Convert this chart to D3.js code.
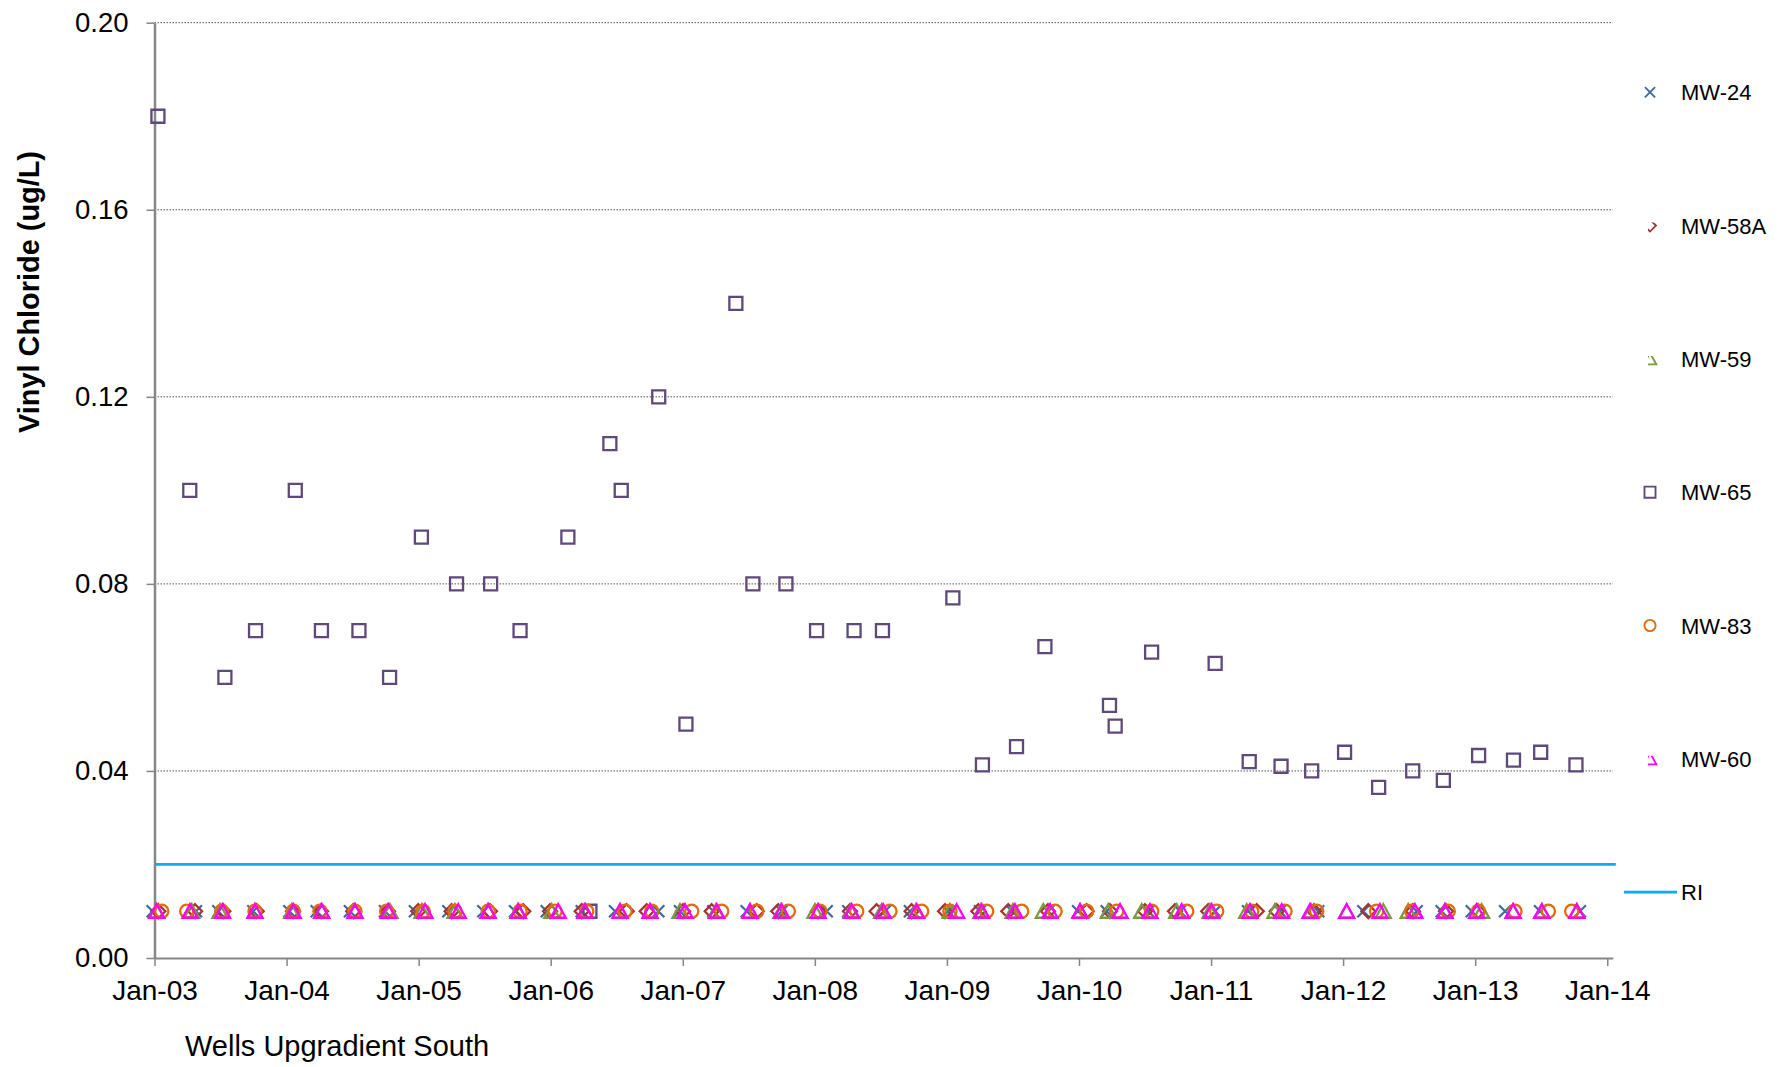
<!DOCTYPE html>
<html>
<head>
<meta charset="utf-8">
<script src="https://cdn.jsdelivr.net/npm/d3@7/dist/d3.min.js"></script>
<style>
  html, body { margin: 0; padding: 0; background: #ffffff; }
  svg { display: block; font-family: "Liberation Sans", Arial, sans-serif; }
</style>
</head>
<body>
<svg id="chart" width="1781" height="1067"></svg>
<script>
// ---------------- data ----------------
const xTickValues = [2003, 2004, 2005, 2006, 2007, 2008, 2009, 2010, 2011, 2012, 2013, 2014];
const xTickLabels = ["Jan-03", "Jan-04", "Jan-05", "Jan-06", "Jan-07", "Jan-08", "Jan-09", "Jan-10", "Jan-11", "Jan-12", "Jan-13", "Jan-14"];
const yTickValues = [0, 0.04, 0.08, 0.12, 0.16, 0.20];
const yTickLabels = ["0.00", "0.04", "0.08", "0.12", "0.16", "0.20"];
const yAxisTitle = "Vinyl Chloride (ug/L)";
const xAxisTitle = "Wells Upgradient South";
const riValue = 0.02;

// sample dates (decimal years) and concentrations (ug/L)
const mw24 = [
  [2002.986, 0.01], [2003.314, 0.01], [2003.483, 0.01], [2003.748, 0.01], [2004.021, 0.01], [2004.228, 0.01],
  [2004.480, 0.01], [2004.745, 0.01], [2004.972, 0.01], [2005.225, 0.01], [2005.490, 0.01], [2005.730, 0.01],
  [2005.970, 0.01], [2006.235, 0.01], [2006.487, 0.01], [2006.815, 0.01], [2006.979, 0.01], [2007.231, 0.01],
  [2007.484, 0.01], [2007.749, 0.01], [2008.090, 0.01], [2008.253, 0.01], [2008.531, 0.01], [2008.720, 0.01],
  [2009.010, 0.01], [2009.251, 0.01], [2009.493, 0.01], [2009.768, 0.01], [2009.993, 0.01], [2010.210, 0.01],
  [2010.525, 0.01], [2010.765, 0.01], [2011.030, 0.01], [2011.280, 0.01], [2011.522, 0.01], [2011.812, 0.01],
  [2012.153, 0.01], [2012.557, 0.01], [2012.746, 0.01], [2012.974, 0.01], [2013.226, 0.01], [2013.491, 0.01],
  [2013.793, 0.01]
];
const mw58a = [
  [2003.029, 0.01], [2003.307, 0.01], [2003.521, 0.01], [2003.774, 0.01], [2004.049, 0.01], [2004.261, 0.01],
  [2004.505, 0.01], [2004.768, 0.01], [2004.997, 0.01], [2005.250, 0.01], [2005.540, 0.01], [2005.792, 0.01],
  [2005.995, 0.01], [2006.235, 0.01], [2006.575, 0.01], [2006.727, 0.01], [2007.002, 0.01], [2007.219, 0.01],
  [2007.560, 0.01], [2007.723, 0.01], [2008.024, 0.01], [2008.266, 0.01], [2008.468, 0.01], [2008.733, 0.01],
  [2008.986, 0.01], [2009.238, 0.01], [2009.465, 0.01], [2009.765, 0.01], [2010.058, 0.01], [2010.235, 0.01],
  [2010.500, 0.01], [2010.727, 0.01], [2010.979, 0.01], [2011.346, 0.01], [2011.497, 0.01], [2011.780, 0.01],
  [2012.191, 0.01], [2012.529, 0.01], [2012.779, 0.01], [2013.021, 0.01]
];
const mw59 = [
  [2003.017, 0.01], [2003.282, 0.01], [2003.496, 0.01], [2003.761, 0.01], [2004.039, 0.01], [2004.266, 0.01],
  [2004.518, 0.01], [2004.783, 0.01], [2005.025, 0.01], [2005.275, 0.01], [2005.525, 0.01], [2005.752, 0.01],
  [2006.008, 0.01], [2006.260, 0.01], [2006.525, 0.01], [2006.752, 0.01], [2006.979, 0.01], [2007.252, 0.01],
  [2007.509, 0.01], [2007.744, 0.01], [2008.001, 0.01], [2008.274, 0.01], [2008.506, 0.01], [2008.766, 0.01],
  [2009.023, 0.01], [2009.258, 0.01], [2009.500, 0.01], [2009.730, 0.01], [2010.008, 0.01], [2010.222, 0.01],
  [2010.475, 0.01], [2010.740, 0.01], [2010.992, 0.01], [2011.270, 0.01], [2011.484, 0.01], [2011.757, 0.01],
  [2012.027, 0.01], [2012.304, 0.01], [2012.493, 0.01], [2012.771, 0.01], [2013.049, 0.01], [2013.286, 0.01],
  [2013.506, 0.01], [2013.771, 0.01]
];
const mw65 = [
  [2003.026, 0.18], [2003.267, 0.10], [2003.533, 0.06], [2003.765, 0.07], [2004.066, 0.10], [2004.264, 0.07],
  [2004.548, 0.07], [2004.780, 0.06], [2005.021, 0.09], [2005.287, 0.08], [2005.545, 0.08], [2005.768, 0.07],
  [2006.130, 0.09], [2006.297, 0.01], [2006.448, 0.11], [2006.534, 0.10], [2006.818, 0.12], [2007.024, 0.05],
  [2007.402, 0.14], [2007.531, 0.08], [2007.781, 0.08], [2008.013, 0.07], [2008.297, 0.07], [2008.512, 0.07],
  [2009.045, 0.077], [2009.269, 0.0413], [2009.527, 0.0452], [2009.742, 0.0666], [2010.231, 0.054], [2010.274, 0.0496],
  [2010.550, 0.0654], [2011.031, 0.063], [2011.289, 0.042], [2011.530, 0.041], [2011.762, 0.040], [2012.011, 0.044],
  [2012.269, 0.0365], [2012.527, 0.040], [2012.759, 0.038], [2013.026, 0.0433], [2013.290, 0.0423], [2013.496, 0.044],
  [2013.763, 0.0413]
];
const mw83 = [
  [2003.055, 0.01], [2003.244, 0.01], [2003.509, 0.01], [2003.761, 0.01], [2004.051, 0.01], [2004.253, 0.01],
  [2004.518, 0.01], [2004.758, 0.01], [2005.035, 0.01], [2005.275, 0.01], [2005.527, 0.01], [2005.768, 0.01],
  [2006.033, 0.01], [2006.273, 0.01], [2006.563, 0.01], [2006.765, 0.01], [2007.068, 0.01], [2007.295, 0.01],
  [2007.560, 0.01], [2007.799, 0.01], [2008.039, 0.01], [2008.317, 0.01], [2008.569, 0.01], [2008.809, 0.01],
  [2009.023, 0.01], [2009.301, 0.01], [2009.566, 0.01], [2009.819, 0.01], [2010.058, 0.01], [2010.286, 0.01],
  [2010.551, 0.01], [2010.816, 0.01], [2011.043, 0.01], [2011.308, 0.01], [2011.560, 0.01], [2011.800, 0.01],
  [2012.254, 0.01], [2012.519, 0.01], [2012.796, 0.01], [2013.024, 0.01], [2013.301, 0.01], [2013.554, 0.01],
  [2013.731, 0.01]
];
const mw60 = [
  [2003.017, 0.01], [2003.269, 0.01], [2003.516, 0.01], [2003.761, 0.01], [2004.051, 0.01], [2004.266, 0.01],
  [2004.518, 0.01], [2004.770, 0.01], [2005.048, 0.01], [2005.300, 0.01], [2005.527, 0.01], [2005.755, 0.01],
  [2006.057, 0.01], [2006.260, 0.01], [2006.525, 0.01], [2006.752, 0.01], [2007.017, 0.01], [2007.257, 0.01],
  [2007.509, 0.01], [2007.749, 0.01], [2008.026, 0.01], [2008.279, 0.01], [2008.518, 0.01], [2008.771, 0.01],
  [2009.074, 0.01], [2009.263, 0.01], [2009.515, 0.01], [2009.781, 0.01], [2010.008, 0.01], [2010.311, 0.01],
  [2010.538, 0.01], [2010.778, 0.01], [2011.005, 0.01], [2011.295, 0.01], [2011.535, 0.01], [2011.749, 0.01],
  [2012.027, 0.01], [2012.279, 0.01], [2012.544, 0.01], [2012.771, 0.01], [2013.011, 0.01], [2013.288, 0.01],
  [2013.504, 0.01], [2013.769, 0.01]
];

const seriesNames = ["MW-24", "MW-58A", "MW-59", "MW-65", "MW-83", "MW-60"];
const seriesData = [mw24, mw58a, mw59, mw65, mw83, mw60];
const seriesColors = ["#3C6AA0", "#A5342F", "#7A9A3C", "#5F497A", "#E36C0A", "#FF00FF"];
const seriesShapes = ["cross", "diamond", "triangle", "square", "circle", "triangle"];
const riName = "RI";
const riColor = "#00B0F0";

// ---------------- layout ----------------
const svg = d3.select("#chart");
const plotLeft = 154.5, plotRight = 1612.8, plotTop = 22.7, plotBottom = 958;

const x = d3.scaleLinear().domain([2003, 2014.042]).range([plotLeft, plotRight]);
const y = d3.scaleLinear().domain([0, 0.2]).range([plotBottom, plotTop]);

// marker path generators (centered at 0,0)
function markerPath(shape) {
  switch (shape) {
    case "cross": return "M-6,-6L6,6M-6,6L6,-6";
    case "diamond": return "M0,-7L7,0L0,7L-7,0Z";
    case "triangle": return "M0,-7L7.5,6.5L-7.5,6.5Z";
    case "square": return "M-6.5,-6.5H6.5V6.5H-6.5Z";
    case "circle": return d3.symbol(d3.symbolCircle, Math.PI * 6.6 * 6.6)();
  }
}

// gridlines (dotted)
svg.append("g")
  .selectAll("line")
  .data(yTickValues.filter(v => v > 0))
  .join("line")
  .attr("x1", plotLeft).attr("x2", plotRight)
  .attr("y1", d => y(d)).attr("y2", d => y(d))
  .attr("stroke", "#555")
  .attr("stroke-width", 1)
  .attr("stroke-dasharray", "1.5,1.5");

// y axis
const yAxis = d3.axisLeft(y)
  .tickValues(yTickValues)
  .tickFormat((d, i) => yTickLabels[i])
  .tickSizeInner(8).tickSizeOuter(0).tickPadding(18);
const gy = svg.append("g").attr("transform", `translate(${plotLeft},0)`).call(yAxis);
gy.select(".domain").attr("stroke", "#868686").attr("stroke-width", 2.5);
gy.selectAll(".tick line").attr("stroke", "#868686").attr("stroke-width", 1.5);
gy.selectAll(".tick text")
  .attr("font-family", "Liberation Sans, Arial, sans-serif")
  .attr("font-size", 27.5).attr("fill", "#000");

// x axis
const xAxis = d3.axisBottom(x)
  .tickValues(xTickValues)
  .tickFormat((d, i) => xTickLabels[i])
  .tickSizeInner(8).tickSizeOuter(0).tickPadding(14);
const gx = svg.append("g").attr("transform", `translate(0,${plotBottom})`).call(xAxis);
gx.select(".domain").attr("stroke", "#868686").attr("stroke-width", 2);
gx.selectAll(".tick line").attr("stroke", "#868686").attr("stroke-width", 1.5);
gx.selectAll(".tick text")
  .attr("font-family", "Liberation Sans, Arial, sans-serif")
  .attr("font-size", 28).attr("fill", "#000");

// RI line
svg.append("line")
  .attr("x1", plotLeft + 1).attr("x2", plotRight + 3)
  .attr("y1", y(riValue)).attr("y2", y(riValue))
  .attr("stroke", riColor).attr("stroke-width", 2.8);

// series markers
seriesData.forEach((data, si) => {
  svg.append("g")
    .selectAll("path")
    .data(data)
    .join("path")
    .attr("transform", d => `translate(${x(d[0])},${y(d[1])})`)
    .attr("d", markerPath(seriesShapes[si]))
    .attr("fill", "none")
    .attr("stroke", seriesColors[si])
    .attr("stroke-width", seriesShapes[si] === "cross" ? 2.2 : 2.3);
});

// axis titles
svg.append("text")
  .attr("transform", `translate(39,292) rotate(-90)`)
  .attr("text-anchor", "middle")
  .attr("font-family", "Liberation Sans, Arial, sans-serif")
  .attr("font-weight", "bold")
  .attr("font-size", 29)
  .attr("textLength", 282)
  .attr("lengthAdjust", "spacingAndGlyphs")
  .text(yAxisTitle);

svg.append("text")
  .attr("x", 185).attr("y", 1056)
  .attr("font-family", "Liberation Sans, Arial, sans-serif")
  .attr("font-size", 29)
  .text(xAxisTitle);

// legend
const legendX = 1650, legendTextX = 1681, legendY0 = 92.3, legendStep = 133.3;
const defs = svg.append("defs");
const clipped = { "MW-58A": true, "MW-59": true, "MW-60": true };
seriesNames.forEach((name, i) => {
  const cy = legendY0 + i * legendStep;
  const g = svg.append("g");
  if (clipped[name]) {
    defs.append("clipPath").attr("id", "lc" + i)
      .append("rect").attr("x", legendX - 2).attr("y", cy - 3).attr("width", 14).attr("height", 14);
    g.attr("clip-path", `url(#lc${i})`);
  }
  g.append("path")
    .attr("transform", `translate(${legendX},${cy}) scale(0.85)`)
    .attr("d", markerPath(seriesShapes[i]))
    .attr("fill", "none")
    .attr("stroke", seriesColors[i])
    .attr("stroke-width", 2.2);
  svg.append("text")
    .attr("x", legendTextX).attr("y", cy + 8)
    .attr("font-family", "Liberation Sans, Arial, sans-serif")
    .attr("font-size", 22)
    .text(name);
});
const riY = legendY0 + 6 * legendStep;
svg.append("line")
  .attr("x1", 1624).attr("x2", 1677)
  .attr("y1", riY).attr("y2", riY)
  .attr("stroke", riColor).attr("stroke-width", 2.8);
svg.append("text")
  .attr("x", 1681).attr("y", riY + 8)
  .attr("font-family", "Liberation Sans, Arial, sans-serif")
  .attr("font-size", 22)
  .text(riName);
</script>
</body>
</html>
